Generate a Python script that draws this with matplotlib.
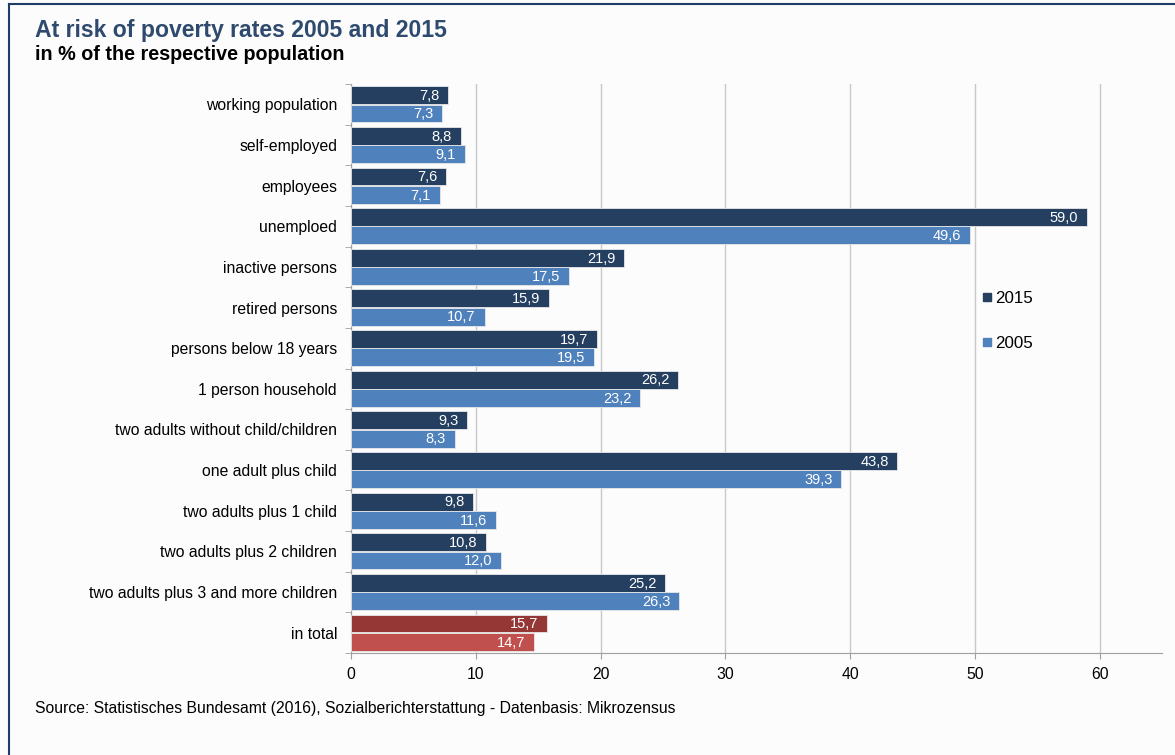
import numpy as np
import matplotlib.pyplot as plt
from matplotlib.lines import Line2D

plt.rcParams['font.family'] = ['Liberation Sans', 'DejaVu Sans']

# Daten
categories = ['working population', 'self-employed', 'employees', 'unemploed',
              'inactive persons', 'retired persons', 'persons below 18 years',
              '1 person household', 'two adults without child/children',
              'one adult plus child', 'two adults plus 1 child',
              'two adults plus 2 children', 'two adults plus 3 and more children',
              'in total']
values_2015 = [7.8, 8.8, 7.6, 59.0, 21.9, 15.9, 19.7, 26.2, 9.3, 43.8, 9.8, 10.8, 25.2, 15.7]
values_2005 = [7.3, 9.1, 7.1, 49.6, 17.5, 10.7, 19.5, 23.2, 8.3, 39.3, 11.6, 12.0, 26.3, 14.7]
x_ticks = [0, 10, 20, 30, 40, 50, 60]

c15 = '#243F60'
c05 = '#4F81BD'
c15_total = '#953735'
c05_total = '#C0504D'
bg = '#FCFCFC'

fig = plt.figure(figsize=(11.75, 7.55), dpi=100, facecolor=bg)
ax = fig.add_axes([351 / 1175, 1 - 653 / 755, (1162 - 351) / 1175, (653 - 84) / 755])
ax.set_facecolor(bg)

n = len(categories)
y = np.arange(n)
h = 0.44
col15 = [c15] * (n - 1) + [c15_total]
col05 = [c05] * (n - 1) + [c05_total]
b1 = ax.barh(y - 0.225, values_2015, height=h, color=col15, edgecolor='#E8E8E8', linewidth=0.6, zorder=3)
b2 = ax.barh(y + 0.225, values_2005, height=h, color=col05, edgecolor='#E8E8E8', linewidth=0.6, zorder=3)

for bars, vals in ((b1, values_2015), (b2, values_2005)):
    for bar, v in zip(bars, vals):
        ax.text(v - 0.7, bar.get_y() + bar.get_height() / 2 + 0.02,
                f'{v:.1f}'.replace('.', ','), ha='right', va='center',
                color='white', fontsize=10.5, zorder=4)

ax.set_xlim(0, 65)
ax.set_ylim(n - 0.5, -0.5)
ax.set_xticks(x_ticks)
ax.set_xticklabels([str(t) for t in x_ticks], fontsize=11.3)
ax.set_yticks(y)
ax.set_yticklabels(categories, fontsize=11.3)
ax.tick_params(axis='y', length=0, pad=10)
# kleine Striche zwischen den Kategorien
ax.set_yticks(np.arange(n + 1) - 0.5, minor=True)
ax.tick_params(axis='y', which='minor', length=4, color='#A0A0A0')
ax.tick_params(axis='x', length=4, color='#A0A0A0', pad=6)

ax.grid(axis='x', color='#C8C8C8', linewidth=1, zorder=0)
for s in ['top', 'right']:
    ax.spines[s].set_visible(False)
for s in ['left', 'bottom']:
    ax.spines[s].set_color('#A0A0A0')

handles = [Line2D([], [], marker='s', linestyle='none', color=c15, markersize=5.5),
           Line2D([], [], marker='s', linestyle='none', color=c05, markersize=5.5)]
leg = fig.legend(handles, ['2015', '2005'], loc='upper left', bbox_to_anchor=(965 / 1175, 1 - 276 / 755),
                 frameon=False, fontsize=12.2, handletextpad=0.05, labelspacing=1.75, handlelength=0.8)

fig.text(35 / 1175, 1 - 31 / 755, 'At risk of poverty rates 2005 and 2015', fontsize=16.6,
         fontweight='bold', color='#2E4A6E', va='center')
fig.text(35 / 1175, 1 - 55 / 755, 'in % of the respective population', fontsize=14.2,
         fontweight='bold', color='black', va='center')
fig.text(35 / 1175, 1 - 709 / 755, 'Source: Statistisches Bundesamt (2016), Sozialberichterstattung - Datenbasis: Mikrozensus',
         fontsize=11.3, color='black', va='center')

# Rahmen oben und links
fig.add_artist(Line2D([9 / 1175, 1], [1 - 4 / 755, 1 - 4 / 755], color='#1F3D66', linewidth=1.5, transform=fig.transFigure))
fig.add_artist(Line2D([9 / 1175, 9 / 1175], [0, 1 - 4 / 755], color='#1F3D66', linewidth=1.5, transform=fig.transFigure))

fig.savefig('out.png', dpi=100, facecolor=bg)
